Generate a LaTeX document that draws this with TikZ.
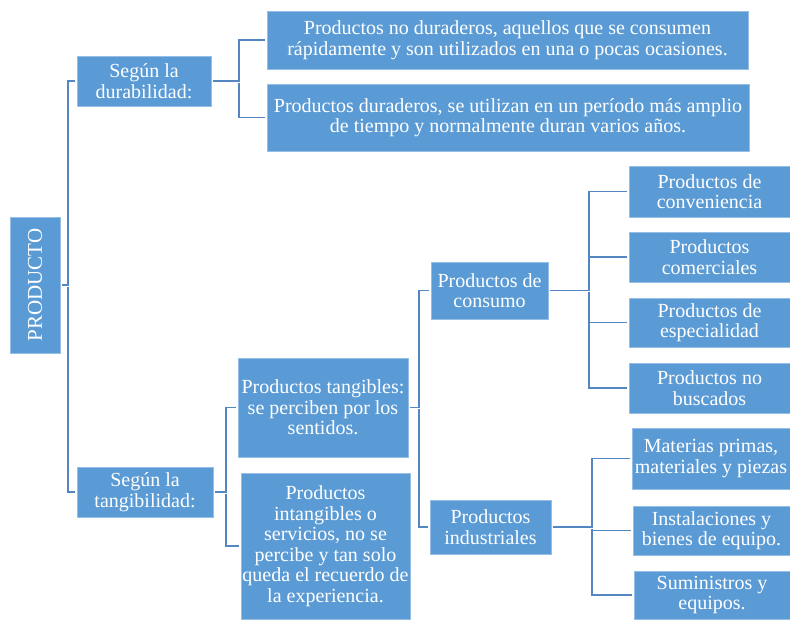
\documentclass[tikz,border=0pt]{standalone}
\usepackage{fontspec}
\setmainfont{Liberation Serif}
\usepackage{graphicx}
\definecolor{boxfill}{RGB}{91,155,213}
\definecolor{boxline}{RGB}{150,190,230}
\definecolor{connline}{RGB}{84,134,194}
\tikzset{
  box/.style={fill=boxfill, draw=boxline, line width=0.8pt, text=white, inner sep=0pt,
    align=center, font=\fontsize{20}{20.5}\selectfont},
  conn/.style={draw=connline, line width=1.6pt, shorten >=2pt, shorten <=1.5pt}
}
\begin{document}
\begin{tikzpicture}[x=1pt,y=-1pt]
\useasboundingbox (0,0) rectangle (790,619);
% nodes
\node[box, minimum width=50, minimum height=136] (prod) at (35,285) {\rotatebox{90}{\fontsize{21}{21}\selectfont PRODUCTO}};
\node[box, minimum width=134, minimum height=50] (dur) at (144,81) {Según la\\durabilidad:};
\node[box, minimum width=136, minimum height=50] (tan) at (145,492) {Según la\\tangibilidad:};
\node[box, minimum width=481, minimum height=58] (nodur) at (507.5,40) {Productos no duraderos, aquellos que se consumen\\rápidamente y son utilizados en una o pocas ocasiones.};
\node[box, minimum width=482, minimum height=67] (sidur) at (508,117.5) {Productos duraderos, se utilizan en un período más amplio\\de tiempo y normalmente duran varios años.};
\node[box, minimum width=170, minimum height=99] (tang) at (323,407.5) {Productos tangibles:\\se perciben por los\\sentidos.};
\node[box, minimum width=169, minimum height=146] (intang) at (325.5,546) {Productos\\intangibles o\\servicios, no se\\percibe y tan solo\\queda el recuerdo de\\la experiencia.};
\node[box, minimum width=117, minimum height=57] (cons) at (489.5,290.5) {Productos de\\consumo};
\node[box, minimum width=121, minimum height=54] (ind) at (490.5,527) {Productos\\industriales};
\node[box, minimum width=161, minimum height=51] (c1) at (709.5,191.5) {Productos de\\conveniencia};
\node[box, minimum width=161, minimum height=50] (c2) at (709.5,257) {Productos\\comerciales};
\node[box, minimum width=161, minimum height=49] (c3) at (709.5,322.5) {Productos de\\especialidad};
\node[box, minimum width=161, minimum height=50] (c4) at (709.5,388) {Productos no\\buscados};
\node[box, minimum width=158, minimum height=61] (i1) at (711,458.5) {Materias primas,\\materiales y piezas};
\node[box, minimum width=157, minimum height=49] (i2) at (711.5,530.5) {Instalaciones y\\bienes de equipo.};
\node[box, minimum width=156, minimum height=48] (i3) at (712,595) {Suministros y\\equipos.};
% junction points
\coordinate (j0) at (68,285);
\coordinate (jd) at (239,81);
\coordinate (jt) at (226,492);
\coordinate (jg) at (419,407.5);
\coordinate (jc) at (589,290.5);
\coordinate (ji) at (592,527);
% connectors
\draw[conn] (prod.east) -- (j0) |- (dur.west);
\draw[conn] (j0) |- (tan.west);
\draw[conn] (dur.east) -- (jd) |- (nodur.west);
\draw[conn] (jd) |- (sidur.west);
\draw[conn] (tan.east) -- (jt) |- (tang.west);
\draw[conn] (jt) |- (intang.west);
\draw[conn] (tang.east) -- (jg) |- (cons.west);
\draw[conn] (jg) |- (ind.west);
\draw[conn] (cons.east) -- (jc) |- (c1.west);
\draw[conn] (jc) |- (c2.west);
\draw[conn] (jc) |- (c3.west);
\draw[conn] (jc) |- (c4.west);
\draw[conn] (ind.east) -- (ji) |- (i1.west);
\draw[conn] (ji) |- (i2.west);
\draw[conn] (ji) |- (i3.west);
\end{tikzpicture}
\end{document}
